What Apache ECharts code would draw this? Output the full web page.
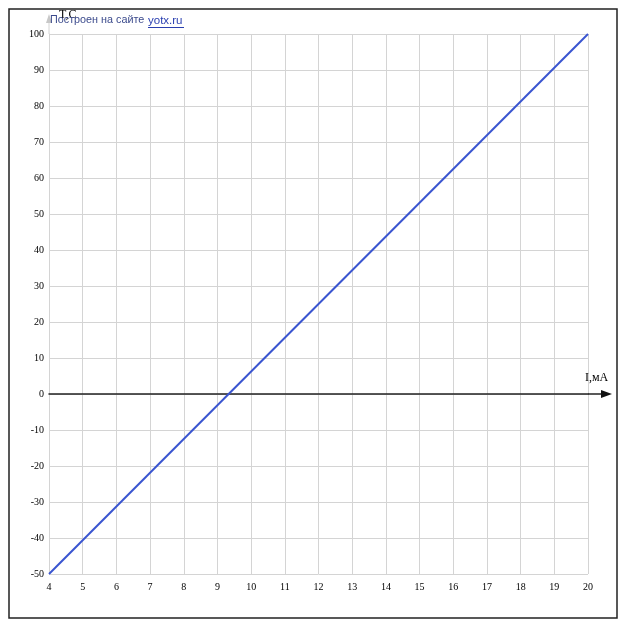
<!DOCTYPE html>
<html>
<head>
<meta charset="utf-8">
<script src="https://cdn.jsdelivr.net/npm/echarts@6/dist/echarts.min.js"></script>
<style>
  html, body { margin: 0; padding: 0; background: #fff; }
  #chart { width: 626px; height: 629px; }
</style>
</head>
<body>
<div id="chart"></div>
<script>
  // line T(I): 4 mA -> -50 C, 20 mA -> 100 C
  const currentMA = [4, 20];
  const tempC = [-50, 100];
  const xTicks = { min: 4, max: 20, step: 1 };
  const yTicks = { min: -50, max: 100, step: 10 };

  const chart = echarts.init(document.getElementById('chart'));

  const labelFont = { fontFamily: 'Liberation Serif', fontSize: 10, color: '#000' };

  chart.setOption({
    animation: false,
    grid: { left: 49, right: 38, top: 34, bottom: 55 },
    xAxis: {
      type: 'value',
      min: xTicks.min, max: xTicks.max, interval: xTicks.step,
      axisLine: { onZero: true, lineStyle: { color: '#222', width: 1.5 } },
      axisTick: { show: false },
      axisLabel: Object.assign({ margin: 8 }, labelFont),
      splitLine: { lineStyle: { color: '#d4d4d4', width: 1 } }
    },
    yAxis: {
      type: 'value',
      min: yTicks.min, max: yTicks.max, interval: yTicks.step,
      axisLine: { show: true, onZero: false, lineStyle: { color: '#d4d4d4' } },
      axisTick: { show: false },
      axisLabel: Object.assign({ margin: 5 }, labelFont),
      splitLine: { lineStyle: { color: '#d4d4d4', width: 1 } }
    },
    series: [{
      type: 'line',
      data: currentMA.map((x, i) => [x, tempC[i]]),
      symbol: 'none',
      lineStyle: { color: '#3a55d0', width: 2 }
    }]
  });

  // axis extensions with arrows, placed from the library's own scale
  const xEnd = chart.convertToPixel({ gridIndex: 0 }, [xTicks.max, 0]);
  const yEnd = chart.convertToPixel({ gridIndex: 0 }, [xTicks.min, yTicks.max]);
  const xe = xEnd[0] + 24, ye = xEnd[1];
  const yx = yEnd[0], yt = yEnd[1] - 20;

  chart.setOption({
    graphic: [
      {
        type: 'rect', shape: { x: 9, y: 9, width: 608, height: 609 },
        style: { fill: 'none', stroke: '#222', lineWidth: 1.5 }, z: 100
      },
      {
        type: 'line', shape: { x1: xEnd[0], y1: ye, x2: xe - 6, y2: ye },
        style: { stroke: '#222', lineWidth: 1.5 }
      },
      {
        type: 'polygon', shape: { points: [[xe, ye], [xe - 11, ye - 4], [xe - 11, ye + 4]] },
        style: { fill: '#111' }
      },
      {
        type: 'line', shape: { x1: yx, y1: yEnd[1], x2: yx, y2: yt + 4 },
        style: { stroke: '#d4d4d4', lineWidth: 1 }
      },
      {
        type: 'polygon', shape: { points: [[yx, yt], [yx - 3, yt + 9], [yx + 3, yt + 9]] },
        style: { fill: '#c8c8c8' }
      },
      {
        type: 'text', left: xe - 27, top: ye - 22,
        style: { text: 'I,мА', font: '12px "Liberation Serif"', fill: '#000' }
      },
      {
        type: 'text', left: yx + 10, top: 9,
        style: { text: 'T,C', font: '12px "Liberation Serif"', fill: '#000' }
      },
      {
        type: 'text', left: 50, top: 15,
        style: { text: 'Построен на сайте', font: '10.8px "Liberation Sans"', fill: '#3b4a8c' }
      },
      {
        type: 'text', left: 148, top: 15,
        style: { text: 'yotx.ru', font: '11.5px "Liberation Sans"', fill: '#2a3fb0' }
      },
      {
        type: 'line', shape: { x1: 148, y1: 27.5, x2: 184, y2: 27.5 },
        style: { stroke: '#2a3fb0', lineWidth: 1 }
      }
    ]
  });
</script>
</body>
</html>
